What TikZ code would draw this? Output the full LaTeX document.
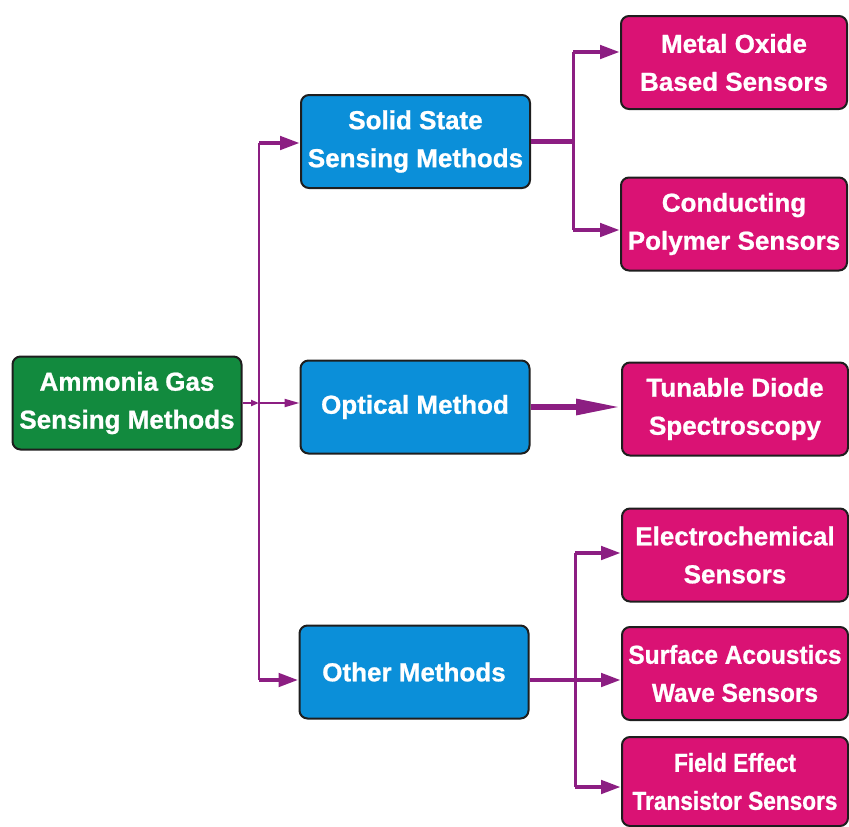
\documentclass[tikz,border=0pt]{standalone}
\usepackage{fontspec}
\setmainfont{Liberation Sans}[BoldFont={Liberation Sans Bold}, BoldFeatures={FakeBold=0.9}]
\newfontfamily\condA{Liberation Sans}[FakeStretch=0.94, BoldFont={Liberation Sans Bold}, BoldFeatures={FakeBold=0.9, FakeStretch=0.94}]
\newfontfamily\condB{Liberation Sans}[FakeStretch=0.87, BoldFont={Liberation Sans Bold}, BoldFeatures={FakeBold=0.9, FakeStretch=0.87}]
\usetikzlibrary{arrows.meta}
\definecolor{cGreen}{RGB}{18,138,62}
\definecolor{cBlue}{RGB}{11,143,217}
\definecolor{cMag}{RGB}{218,18,116}
\definecolor{cLink}{RGB}{140,30,130}
\definecolor{cEdge}{RGB}{30,30,30}
\begin{document}
\begin{tikzpicture}[x=1pt,y=-1pt,
  box/.style={draw=cEdge, line width=2pt, rounded corners=8pt, text=white, align=center,
    inner sep=0pt, font=\bfseries\fontsize{26}{38}\selectfont, minimum height=93pt},
  rootbox/.style={box, fill=cGreen, minimum width=229pt},
  midbox/.style={box, fill=cBlue, minimum width=229pt},
  leafbox/.style={box, fill=cMag, minimum width=226pt},
  thinlink/.style={draw=cLink, line width=2pt},
  trunkline/.style={draw=cLink, line width=2.5pt},
  vline/.style={draw=cLink, line width=3pt},
  link/.style={draw=cLink, line width=4.5pt},
  biglink/.style={draw=cLink, line width=6pt},
  smalltip/.style={-{Triangle[length=15pt,width=8pt]}},
  tip/.style={-{Triangle[length=20pt,width=13pt]}},
  bigtip/.style={-{Triangle[length=45pt,width=15pt]}}
]
\useasboundingbox (0,0) rectangle (849,827);

% nodes
\node[rootbox] (root) at (127,403) {Ammonia Gas\\Sensing Methods};
\node[midbox] (solid) at (415.5,141.5) {Solid State\\Sensing Methods};
\node[midbox] (optical) at (415,407) {Optical Method};
\node[midbox] (other) at (414,672) {Other Methods};
\node[leafbox] (metal) at (734,62.5) {Metal Oxide\\Based Sensors};
\node[leafbox] (cond) at (734,224) {Conducting\\Polymer Sensors};
\node[leafbox] (tunable) at (735,409) {Tunable Diode\\Spectroscopy};
\node[leafbox] (electro) at (735,555) {Electrochemical\\Sensors};
\node[leafbox, font=\condA\bfseries\fontsize{26}{38}\selectfont] (surface) at (735,673.5) {Surface Acoustics\\Wave Sensors};
\node[leafbox, minimum height=89pt, font=\condB\bfseries\fontsize{26}{38}\selectfont] (field) at (735,781.5) {Field Effect\\Transistor Sensors};

% trunk
\coordinate (tTop) at (259,143);
\coordinate (tBot) at (259,680);
\draw[trunkline] (tTop) -- (tBot);
\draw[thinlink, -{Triangle[length=8pt,width=6pt]}] (root.east) -- (root.east -| tTop);
\draw[thinlink, smalltip] (root.east -| tTop) -- (root.east -| optical.west);
\draw[link, tip] (tTop) -- (tTop -| solid.west);
\draw[link, tip] (tBot) -- (tBot -| other.west);

% solid state branch
\coordinate (sTop) at (573,52);
\coordinate (sBot) at (573,230);
\draw[link] (solid.east) -- (solid.east -| sTop);
\draw[vline] (sTop) -- (sBot);
\draw[link, tip] (sTop) -- (sTop -| metal.west);
\draw[link, tip] (sBot) -- (sBot -| cond.west);

% optical branch
\draw[biglink, bigtip] (optical.east) -- (optical.east -| tunable.west);

% other branch
\coordinate (oTop) at (575,553);
\coordinate (oBot) at (575,787);
\draw[vline] (oTop) -- (oBot);
\draw[link, tip] (tBot -| other.east) -- (tBot -| surface.west);
\draw[link, tip] (oTop) -- (oTop -| electro.west);
\draw[link, tip] (oBot) -- (oBot -| field.west);
\end{tikzpicture}
\end{document}
